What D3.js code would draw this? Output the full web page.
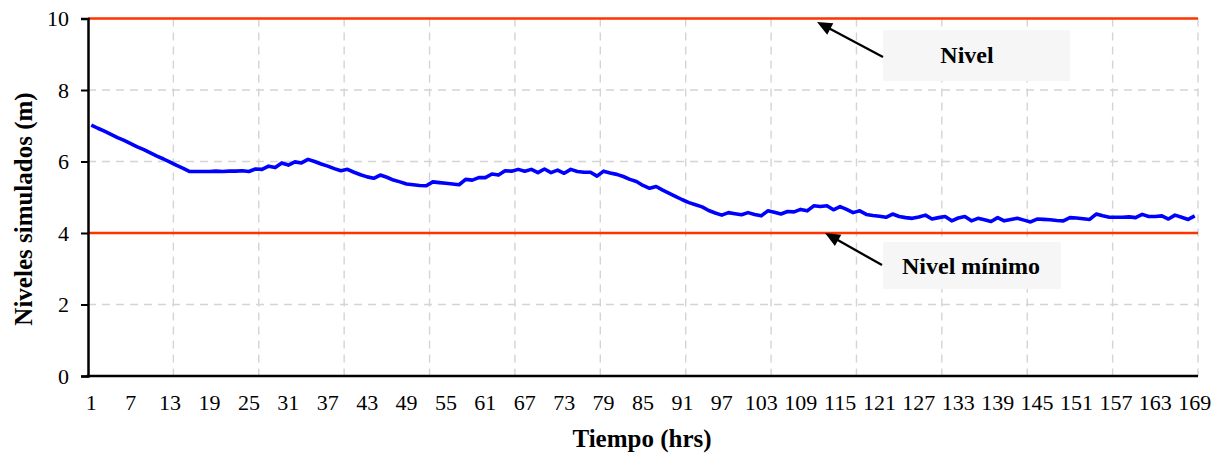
<!DOCTYPE html>
<html>
<head>
<meta charset="utf-8">
<script src="https://cdn.jsdelivr.net/npm/d3@7"></script>
<style>
  html, body { margin: 0; padding: 0; background: #fff; }
  svg { display: block; }
</style>
</head>
<body>
<svg id="chart" width="1220" height="457"></svg>
<script>
// ---- Data ----
const hours = d3.range(1, 170); // 1..169
const niveles = [
  7.02, 6.93, 6.85, 6.76, 6.67, 6.59, 6.50, 6.41, 6.33, 6.24,
  6.15, 6.07, 5.98, 5.89, 5.81, 5.72, 5.72, 5.72, 5.72, 5.73,
  5.72, 5.73, 5.73, 5.74, 5.72, 5.79, 5.78, 5.87, 5.83, 5.96,
  5.90, 5.99, 5.96, 6.06, 6.00, 5.93, 5.87, 5.80, 5.74, 5.78,
  5.70, 5.63, 5.57, 5.53, 5.62, 5.56, 5.48, 5.43, 5.37, 5.35,
  5.33, 5.32, 5.43, 5.41, 5.39, 5.37, 5.35, 5.50, 5.48, 5.55,
  5.55, 5.65, 5.62, 5.74, 5.73, 5.78, 5.73, 5.78, 5.69, 5.79,
  5.69, 5.76, 5.67, 5.78, 5.72, 5.70, 5.70, 5.59, 5.73, 5.68,
  5.64, 5.58, 5.50, 5.44, 5.33, 5.25, 5.30, 5.20, 5.11, 5.02,
  4.93, 4.85, 4.79, 4.73, 4.63, 4.56, 4.50, 4.57, 4.54, 4.51,
  4.57, 4.52, 4.48, 4.62, 4.58, 4.53, 4.60, 4.59, 4.66, 4.62,
  4.76, 4.74, 4.76, 4.65, 4.74, 4.66, 4.57, 4.62, 4.52, 4.49,
  4.47, 4.44, 4.53, 4.46, 4.43, 4.41, 4.45, 4.50, 4.39, 4.43,
  4.46, 4.34, 4.42, 4.46, 4.34, 4.41, 4.37, 4.32, 4.43, 4.34,
  4.38, 4.41, 4.36, 4.31, 4.39, 4.38, 4.37, 4.35, 4.34, 4.43,
  4.42, 4.40, 4.38, 4.53, 4.48, 4.44, 4.44, 4.44, 4.45, 4.43,
  4.52, 4.46, 4.46, 4.48, 4.39, 4.50, 4.44, 4.38, 4.48
];
const xTickLabels = d3.range(1, 170, 6);  // 1,7,...,169
const yTicks = [0, 2, 4, 6, 8, 10];
const nivelMax = 10;
const nivelMin = 4;
const annotations = [
  { label: "Nivel", value: nivelMax },
  { label: "Nivel mínimo", value: nivelMin }
];

// ---- Layout ----
const FONT = '"Liberation Serif", "Times New Roman", Times, serif';
const svg = d3.select("#chart");
const pL = 88, pR = 1198, pT = 18.5, pB = 376;

const x = d3.scaleBand().domain(hours).range([pL, pR]).paddingInner(0).paddingOuter(0);
const xc = d => x(d) + x.bandwidth() / 2;
const y = d3.scaleLinear().domain([0, 10]).range([pB, pT]);

// gridlines
const grid = svg.append("g");
grid.selectAll("line.h").data(yTicks.filter(v => v > 0 && v < 10)).join("line")
  .attr("x1", pL).attr("x2", pR)
  .attr("y1", d => y(d)).attr("y2", d => y(d))
  .attr("stroke", "#d4d4d4").attr("stroke-width", 1.4).attr("stroke-dasharray", "8,6");
const vGrid = hours.filter(h => h % 13 === 0);
grid.selectAll("line.v").data(vGrid).join("line")
  .attr("x1", d => x(d) + x.bandwidth()).attr("x2", d => x(d) + x.bandwidth())
  .attr("y1", pT).attr("y2", pB)
  .attr("stroke", "#d4d4d4").attr("stroke-width", 1.4).attr("stroke-dasharray", "8,6");

// reference lines
svg.selectAll("line.ref").data([nivelMax, nivelMin]).join("line")
  .attr("x1", pL).attr("x2", pR)
  .attr("y1", d => y(d)).attr("y2", d => y(d))
  .attr("stroke", "#ff3300").attr("stroke-width", 2.3);

// series line
const line = d3.line().x((d, i) => xc(hours[i])).y(d => y(d));
svg.append("path").datum(niveles)
  .attr("d", line)
  .attr("fill", "none").attr("stroke", "#0000ff").attr("stroke-width", 3.6)
  .attr("stroke-linejoin", "round");

// y axis
const yAxis = d3.axisLeft(y).tickValues(yTicks).tickSize(7).tickPadding(12).tickFormat(d3.format("d"));
const gy = svg.append("g").attr("transform", `translate(${pL},0)`).call(yAxis);
gy.attr("font-family", FONT).attr("font-size", 22);
gy.select(".domain").attr("stroke", "#000").attr("stroke-width", 2.5);
gy.selectAll(".tick line").attr("stroke", "#000").attr("stroke-width", 2);
gy.selectAll(".tick text").attr("fill", "#000");

// x axis
const xAxis = d3.axisBottom(x).tickValues(xTickLabels).tickSize(0).tickPadding(18);
const gx = svg.append("g").attr("transform", `translate(0,${pB})`).call(xAxis);
gx.attr("font-family", FONT).attr("font-size", 22);
gx.select(".domain").remove();
gx.selectAll(".tick text").attr("fill", "#000");
svg.append("line").attr("x1", pL - 1.25).attr("x2", pR).attr("y1", pB).attr("y2", pB)
  .attr("stroke", "#000").attr("stroke-width", 2.5);

// axis titles
svg.append("text").attr("x", 642).attr("y", 447).attr("text-anchor", "middle")
  .attr("font-family", FONT).attr("font-size", 25).attr("font-weight", "bold").text("Tiempo (hrs)");
svg.append("text").attr("transform", `translate(32,209) rotate(-90)`)
  .attr("text-anchor", "middle").attr("font-family", FONT).attr("font-size", 25).attr("font-weight", "bold")
  .text("Niveles simulados (m)");

// annotations
const boxes = [
  { box: [883, 30, 187, 51], tx: 967, ty: 63, tip: [817, 22], tail: [883, 57] },
  { box: [883, 242, 178, 47], tx: 971, ty: 274, tip: [825, 233], tail: [882, 265] }
];
annotations.forEach((a, i) => {
  const b = boxes[i];
  svg.append("rect").attr("x", b.box[0]).attr("y", b.box[1]).attr("width", b.box[2]).attr("height", b.box[3])
    .attr("fill", "#f6f6f6");
  const dx = b.tip[0] - b.tail[0], dy = b.tip[1] - b.tail[1];
  const len = Math.hypot(dx, dy), ux = dx / len, uy = dy / len;
  const hl = 15, hw = 6.5;
  const bx = b.tip[0] - ux * hl, by = b.tip[1] - uy * hl;
  svg.append("line").attr("x1", b.tail[0]).attr("y1", b.tail[1]).attr("x2", bx + ux * 2).attr("y2", by + uy * 2)
    .attr("stroke", "#000").attr("stroke-width", 2.3);
  svg.append("path")
    .attr("d", `M${b.tip[0]},${b.tip[1]} L${bx - uy * hw},${by + ux * hw} L${bx + uy * hw},${by - ux * hw} Z`)
    .attr("fill", "#000");
  svg.append("text").attr("x", b.tx).attr("y", b.ty).attr("text-anchor", "middle")
    .attr("font-family", FONT).attr("font-size", 24).attr("font-weight", "bold").text(a.label);
});
</script>
</body>
</html>
